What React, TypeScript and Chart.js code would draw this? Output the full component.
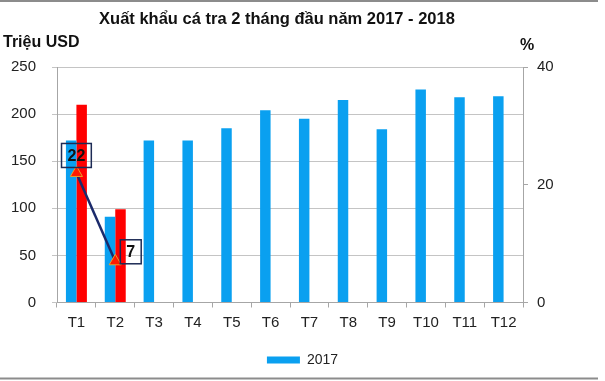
import React, { useEffect, useRef } from "react";
import { Chart, registerables } from "chart.js";

Chart.register(...registerables);

const categories = ["T1", "T2", "T3", "T4", "T5", "T6", "T7", "T8", "T9", "T10", "T11", "T12"];
const exports2017 = [172, 91, 172, 172, 185, 204, 195, 215, 184, 226, 218, 219];
const exports2018 = [210, 99, null, null, null, null, null, null, null, null, null, null];
const growthPct = [22, 7, null, null, null, null, null, null, null, null, null, null];
const leftTicks = { min: 0, max: 250, step: 50 };
const rightTicks = { min: 0, max: 40, step: 20 };

const TITLE = "Xuất khẩu cá tra 2 tháng đầu năm 2017 - 2018";
const LEFT_UNIT = "Triệu USD";
const RIGHT_UNIT = "%";

const FONT = "'Liberation Sans', Arial, sans-serif";
// label box placement relative to the point (style only)
const labelOffsets = [
  { dx: 0, dy: -17.5 },
  { dx: 15.5, dy: -9.5 },
];

const decorPlugin = {
  id: "decor",
  afterDraw(chart: any) {
    const ctx = chart.ctx;
    ctx.save();
    ctx.strokeStyle = "#8c8c8c";
    ctx.lineWidth = 2;
    ctx.beginPath();
    ctx.moveTo(0, 1);
    ctx.lineTo(598, 1);
    ctx.moveTo(0, 378.5);
    ctx.lineTo(598, 378.5);
    ctx.stroke();
    ctx.fillStyle = "#111";
    ctx.font = `bold 16.5px ${FONT}`;
    ctx.textAlign = "center";
    ctx.textBaseline = "alphabetic";
    ctx.fillText(TITLE, 277, 24);
    ctx.font = `bold 16px ${FONT}`;
    ctx.textAlign = "left";
    ctx.fillText(LEFT_UNIT, 3, 46.5);
    ctx.fillText(RIGHT_UNIT, 520, 50);
    ctx.restore();
  },
};

const labelPlugin = {
  id: "boxLabels",
  afterDatasetsDraw(chart: any) {
    const ctx = chart.ctx;
    const meta = chart.getDatasetMeta(2);
    const data = chart.data.datasets[2].data;
    ctx.save();
    ctx.font = `bold 16px ${FONT}`;
    ctx.textAlign = "center";
    ctx.textBaseline = "middle";
    meta.data.forEach((pt: any, i: number) => {
      const v = data[i];
      if (v === null || v === undefined) return;
      const off = labelOffsets[i] || { dx: 0, dy: -18 };
      const cx = pt.x + off.dx;
      const cy = pt.y + off.dy;
      const text = String(v);
      const w = ctx.measureText(text).width + 12;
      const h = 24;
      ctx.strokeStyle = "#1d2b55";
      ctx.lineWidth = 1.5;
      ctx.strokeRect(cx - w / 2, cy - h / 2, w, h);
      ctx.fillStyle = "#111";
      ctx.fillText(text, cx, cy + 1);
    });
    ctx.restore();
  },
};

export default function App() {
  const ref = useRef<HTMLCanvasElement | null>(null);

  useEffect(() => {
    document.body.style.margin = "0";
    const canvas = ref.current;
    if (!canvas) return;
    const chart = new Chart(canvas, {
      type: "bar",
      data: {
        labels: categories,
        datasets: [
          {
            type: "bar",
            label: "2017",
            data: exports2017,
            backgroundColor: "#0aa0f0",
            borderWidth: 0,
            yAxisID: "y",
            categoryPercentage: 0.54,
            barPercentage: 1,
            order: 1,
          },
          {
            type: "bar",
            label: "2018",
            data: exports2018,
            backgroundColor: "#ff0000",
            borderWidth: 0,
            yAxisID: "y",
            categoryPercentage: 0.54,
            barPercentage: 1,
            order: 1,
          },
          {
            type: "line",
            label: "Tăng trưởng (%)",
            data: growthPct,
            yAxisID: "y1",
            borderColor: "#1b2a6b",
            borderWidth: 2.5,
            pointStyle: "triangle",
            pointRadius: 7,
            pointBackgroundColor: "#ff1a00",
            pointBorderColor: "#e8a02a",
            pointBorderWidth: 1,
            spanGaps: false,
            order: 0,
          } as any,
        ],
      },
      options: {
        responsive: false,
        animation: false,
        devicePixelRatio: 1,
        layout: { padding: { top: 67, left: 0, right: 0, bottom: 4 } },
        plugins: {
          title: { display: false },
          tooltip: { enabled: false },
          legend: {
            display: true,
            position: "bottom",
            labels: {
              filter: (item: any) => item.text === "2017",
              boxWidth: 33,
              boxHeight: 7,
              padding: 10,
              color: "#222",
              font: { size: 14, family: FONT },
            },
          },
        },
        scales: {
          x: {
            offset: true,
            grid: {
              offset: true,
              drawOnChartArea: false,
              drawTicks: true,
              tickLength: 5,
              color: "#a6a6a6",
            },
            border: { color: "#a6a6a6", width: 1 },
            ticks: {
              color: "#222",
              padding: 6,
              maxRotation: 0,
              autoSkip: false,
              font: { size: 15, family: FONT },
            },
            afterFit: (s: any) => {
              s.height = 40.5;
            },
          },
          y: {
            position: "left",
            min: leftTicks.min,
            max: leftTicks.max,
            ticks: {
              stepSize: leftTicks.step,
              color: "#222",
              padding: 16,
              font: { size: 15, family: FONT },
            },
            grid: { color: "#c4c4c4", tickLength: 5, lineWidth: 1 },
            border: { color: "#a6a6a6", width: 1 },
            afterFit: (s: any) => {
              s.width = 57;
            },
          },
          y1: {
            position: "right",
            min: rightTicks.min,
            max: rightTicks.max,
            ticks: {
              stepSize: rightTicks.step,
              color: "#222",
              padding: 9,
              font: { size: 15, family: FONT },
            },
            grid: { drawOnChartArea: false, color: "#a6a6a6", tickLength: 5 },
            border: { color: "#a6a6a6", width: 1 },
            afterFit: (s: any) => {
              s.width = 82;
            },
          },
        },
      },
      plugins: [labelPlugin, decorPlugin],
    });
    return () => chart.destroy();
  }, []);

  return (
    <div style={{ width: 605, height: 381, position: "relative", background: "#fff" }}>
      <canvas ref={ref} width={605} height={381} style={{ display: "block" }} />
    </div>
  );
}
